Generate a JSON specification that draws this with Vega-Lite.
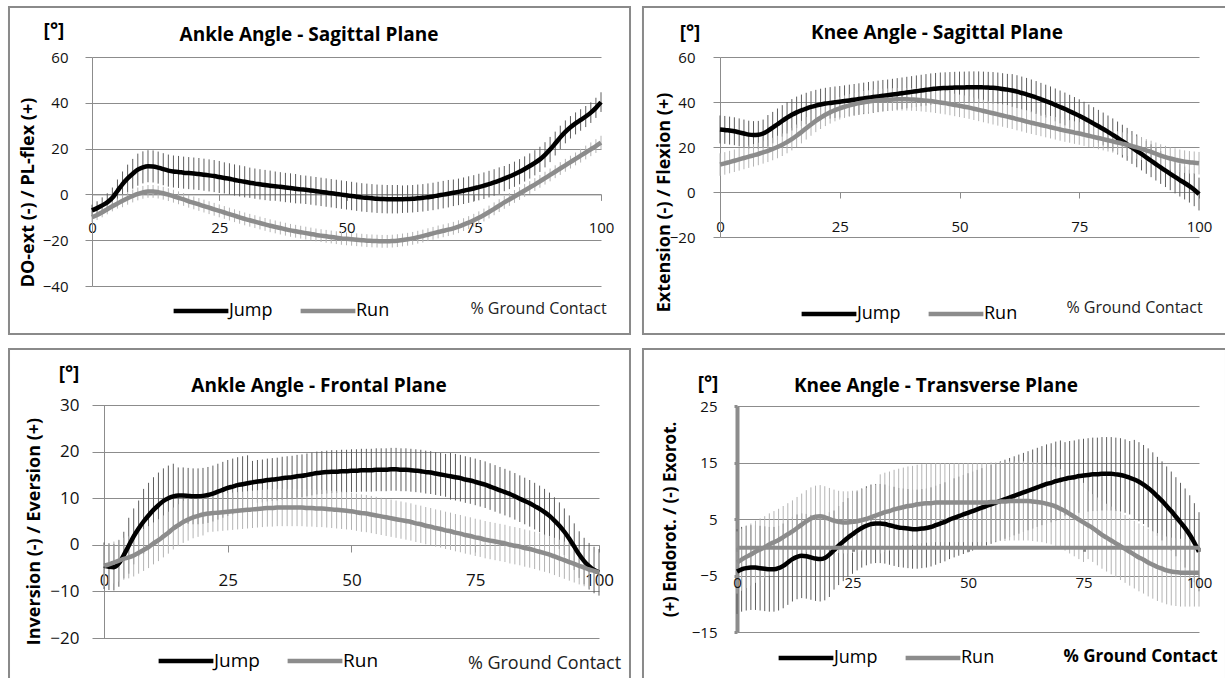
{
"$schema": "https://vega.github.io/schema/vega-lite/v6.json",
"padding": {"left": 7, "top": 6, "right": 0, "bottom": 0},
"autosize": {"type": "pad"},
"background": "white",
"config": {
 "view": {"stroke": null},
 "font": "Open Sans",
 "axis": {"domainColor": "#8c8c8c", "tickColor": "#8c8c8c", "gridColor": "#8c8c8c", "gridOpacity": 1, "labelColor": "#111111", "titleColor": "#000000", "labelFlush": false, "labelOverlap": false, "labelFont": "Open Sans", "titleFont": "Open Sans"},
 "axisX": {"grid": false},
 "axisY": {"grid": true},
 "legend": {"labelFont": "Open Sans", "padding": 0}
},
"resolve": {"scale": {"color": "independent"}, "legend": {"color": "independent"}},
"datasets": {
"p1": [
{"x":0,"j":-7,"je":2.5,"r":-10,"re":2.2},{"x":1,"j":-6,"je":3,"r":-9,"re":2.2},{"x":2,"j":-4.8,"je":3.5,"r":-7.8,"re":2.2},{"x":3,"j":-3.5,"je":4,"r":-6.5,"re":2.2},{"x":4,"j":-1.5,"je":4.5,"r":-5.2,"re":2.2},{"x":5,"j":1.5,"je":5,"r":-4,"re":2.2},{"x":6,"j":4.5,"je":5.5,"r":-2.8,"re":2.8},{"x":7,"j":7,"je":6,"r":-1.7,"re":2.8},{"x":8,"j":9,"je":6.5,"r":-0.7,"re":2.8},{"x":9,"j":10.8,"je":7,"r":0.2,"re":2.8},
{"x":10,"j":11.8,"je":7,"r":0.9,"re":2.8},{"x":11,"j":12.3,"je":7,"r":1.3,"re":2.8},{"x":12,"j":12.2,"je":7,"r":1.3,"re":2.8},{"x":13,"j":11.7,"je":7,"r":1,"re":2.8},{"x":14,"j":11,"je":7,"r":0.5,"re":2.8},{"x":15,"j":10.4,"je":7,"r":-0.1,"re":2.8},{"x":16,"j":10,"je":7,"r":-0.8,"re":2.8},{"x":17,"j":9.8,"je":7,"r":-1.5,"re":2.8},{"x":18,"j":9.5,"je":7,"r":-2.2,"re":2.8},{"x":19,"j":9.3,"je":7,"r":-3,"re":2.8},
{"x":20,"j":9.1,"je":7,"r":-3.7,"re":2.8},{"x":21,"j":8.9,"je":7,"r":-4.4,"re":2.8},{"x":22,"j":8.6,"je":7,"r":-5.1,"re":2.8},{"x":23,"j":8.3,"je":7,"r":-5.8,"re":2.8},{"x":24,"j":8,"je":7,"r":-6.5,"re":2.8},{"x":25,"j":7.6,"je":7,"r":-7.2,"re":2.8},{"x":26,"j":7.2,"je":6.8,"r":-7.9,"re":2.8},{"x":27,"j":6.8,"je":6.8,"r":-8.6,"re":2.8},{"x":28,"j":6.3,"je":6.8,"r":-9.3,"re":2.8},{"x":29,"j":5.9,"je":6.8,"r":-10,"re":2.8},
{"x":30,"j":5.5,"je":6.8,"r":-10.7,"re":2.8},{"x":31,"j":5.1,"je":6.6,"r":-11.3,"re":2.8},{"x":32,"j":4.7,"je":6.6,"r":-11.9,"re":2.8},{"x":33,"j":4.4,"je":6.6,"r":-12.5,"re":2.8},{"x":34,"j":4.1,"je":6.6,"r":-13.1,"re":2.8},{"x":35,"j":3.8,"je":6.6,"r":-13.7,"re":2.8},{"x":36,"j":3.6,"je":6.4,"r":-14.2,"re":2.8},{"x":37,"j":3.3,"je":6.4,"r":-14.7,"re":2.8},{"x":38,"j":3,"je":6.4,"r":-15.2,"re":2.8},{"x":39,"j":2.8,"je":6.4,"r":-15.7,"re":2.8},
{"x":40,"j":2.5,"je":6.4,"r":-16.1,"re":2.8},{"x":41,"j":2.2,"je":6.2,"r":-16.5,"re":2.8},{"x":42,"j":2,"je":6.2,"r":-16.9,"re":2.8},{"x":43,"j":1.7,"je":6.2,"r":-17.3,"re":2.8},{"x":44,"j":1.4,"je":6.2,"r":-17.7,"re":2.8},{"x":45,"j":1.1,"je":6.2,"r":-18,"re":2.8},{"x":46,"j":0.8,"je":6.2,"r":-18.3,"re":2.8},{"x":47,"j":0.5,"je":6.2,"r":-18.6,"re":2.8},{"x":48,"j":0.2,"je":6.2,"r":-18.9,"re":2.8},{"x":49,"j":-0.1,"je":6.2,"r":-19.2,"re":2.8},
{"x":50,"j":-0.4,"je":6.2,"r":-19.4,"re":2.8},{"x":51,"j":-0.7,"je":6.2,"r":-19.6,"re":2.8},{"x":52,"j":-1,"je":6.2,"r":-19.8,"re":2.8},{"x":53,"j":-1.3,"je":6.2,"r":-20,"re":2.8},{"x":54,"j":-1.5,"je":6.2,"r":-20.2,"re":2.8},{"x":55,"j":-1.7,"je":6.2,"r":-20.3,"re":2.8},{"x":56,"j":-1.9,"je":6.2,"r":-20.4,"re":2.8},{"x":57,"j":-2,"je":6.2,"r":-20.5,"re":2.8},{"x":58,"j":-2.1,"je":6.2,"r":-20.5,"re":2.8},{"x":59,"j":-2.1,"je":6.2,"r":-20.4,"re":2.8},
{"x":60,"j":-2.1,"je":6.2,"r":-20.2,"re":2.8},{"x":61,"j":-2.1,"je":6,"r":-19.9,"re":2.8},{"x":62,"j":-2,"je":6,"r":-19.6,"re":2.8},{"x":63,"j":-1.9,"je":6,"r":-19.2,"re":2.8},{"x":64,"j":-1.7,"je":6,"r":-18.7,"re":2.8},{"x":65,"j":-1.5,"je":6,"r":-18.2,"re":2.8},{"x":66,"j":-1.2,"je":6,"r":-17.6,"re":2.8},{"x":67,"j":-0.9,"je":6,"r":-17,"re":2.8},{"x":68,"j":-0.5,"je":6,"r":-16.4,"re":2.8},{"x":69,"j":-0.1,"je":6,"r":-15.9,"re":2.8},
{"x":70,"j":0.3,"je":6,"r":-15.4,"re":2.8},{"x":71,"j":0.7,"je":5.8,"r":-14.8,"re":2.8},{"x":72,"j":1.1,"je":5.8,"r":-14.1,"re":2.8},{"x":73,"j":1.6,"je":5.8,"r":-13.2,"re":2.8},{"x":74,"j":2.1,"je":5.8,"r":-12.3,"re":2.8},{"x":75,"j":2.6,"je":5.8,"r":-11.3,"re":2.8},{"x":76,"j":3.2,"je":5.8,"r":-10.2,"re":2.8},{"x":77,"j":3.8,"je":5.8,"r":-9,"re":2.8},{"x":78,"j":4.5,"je":5.8,"r":-7.7,"re":2.8},{"x":79,"j":5.2,"je":5.8,"r":-6.3,"re":2.8},
{"x":80,"j":6,"je":5.8,"r":-4.9,"re":2.8},{"x":81,"j":6.9,"je":5.5,"r":-3.5,"re":2.8},{"x":82,"j":7.8,"je":5.5,"r":-2.2,"re":2.8},{"x":83,"j":8.8,"je":5.5,"r":-0.9,"re":2.8},{"x":84,"j":9.9,"je":5.5,"r":0.4,"re":2.8},{"x":85,"j":11.1,"je":5.5,"r":1.7,"re":2.8},{"x":86,"j":12.4,"je":5.5,"r":3,"re":2.8},{"x":87,"j":13.8,"je":5.5,"r":4.3,"re":2.8},{"x":88,"j":15.3,"je":5.5,"r":5.7,"re":2.8},{"x":89,"j":17.3,"je":5.5,"r":7.1,"re":2.8},
{"x":90,"j":19.6,"je":5.5,"r":8.5,"re":2.8},{"x":91,"j":22.2,"je":5.2,"r":9.9,"re":2.8},{"x":92,"j":24.9,"je":5.1,"r":11.3,"re":2.8},{"x":93,"j":27.3,"je":5,"r":12.7,"re":2.8},{"x":94,"j":29.3,"je":4.9,"r":14.1,"re":2.8},{"x":95,"j":31,"je":4.8,"r":15.5,"re":2.8},{"x":96,"j":32.5,"je":4.7,"r":16.9,"re":3},{"x":97,"j":34,"je":4.6,"r":18.3,"re":3},{"x":98,"j":35.7,"je":4.5,"r":19.7,"re":3},{"x":99,"j":37.8,"je":4.4,"r":21.1,"re":3},
{"x":100,"j":40.3,"je":4.3,"r":22.6,"re":3}
],
"p2": [
{"x":0,"j":27.8,"je":6.2,"r":12.2,"re":5},{"x":1,"j":27.6,"je":6.2,"r":12.7,"re":5},{"x":2,"j":27.3,"je":6.2,"r":13.3,"re":5},{"x":3,"j":27,"je":6.2,"r":13.9,"re":5},{"x":4,"j":26.5,"je":6.2,"r":14.5,"re":5},{"x":5,"j":26,"je":6.2,"r":15.1,"re":5},{"x":6,"j":25.5,"je":6.2,"r":15.7,"re":5},{"x":7,"j":25.3,"je":6.2,"r":16.3,"re":5},{"x":8,"j":25.4,"je":6.2,"r":16.9,"re":5},{"x":9,"j":26,"je":6.2,"r":17.6,"re":5},
{"x":10,"j":27.2,"je":7,"r":18.3,"re":5},{"x":11,"j":28.6,"je":7,"r":19.1,"re":5},{"x":12,"j":30.1,"je":7,"r":20,"re":5},{"x":13,"j":31.6,"je":7,"r":21,"re":5},{"x":14,"j":33,"je":7,"r":22.2,"re":5},{"x":15,"j":34.3,"je":7,"r":23.5,"re":5},{"x":16,"j":35.4,"je":7,"r":25,"re":5},{"x":17,"j":36.3,"je":7,"r":26.6,"re":5},{"x":18,"j":37.1,"je":7,"r":28.3,"re":5},{"x":19,"j":37.8,"je":7,"r":30,"re":5},
{"x":20,"j":38.4,"je":7,"r":31.6,"re":5},{"x":21,"j":38.9,"je":7,"r":33,"re":5},{"x":22,"j":39.3,"je":7,"r":34.3,"re":5},{"x":23,"j":39.6,"je":7,"r":35.4,"re":5},{"x":24,"j":39.9,"je":7,"r":36.4,"re":5},{"x":25,"j":40.1,"je":7,"r":37.2,"re":5},{"x":26,"j":40.4,"je":7,"r":37.9,"re":5},{"x":27,"j":40.7,"je":7,"r":38.5,"re":5},{"x":28,"j":41,"je":7,"r":39,"re":5},{"x":29,"j":41.3,"je":7,"r":39.5,"re":5},
{"x":30,"j":41.6,"je":7,"r":39.9,"re":5},{"x":31,"j":41.9,"je":7,"r":40.2,"re":5},{"x":32,"j":42.2,"je":7,"r":40.5,"re":5},{"x":33,"j":42.5,"je":7,"r":40.7,"re":5},{"x":34,"j":42.8,"je":7,"r":40.9,"re":5},{"x":35,"j":43,"je":7,"r":41,"re":5},{"x":36,"j":43.3,"je":7,"r":41.1,"re":5},{"x":37,"j":43.6,"je":7,"r":41.2,"re":5},{"x":38,"j":43.9,"je":7,"r":41.2,"re":5},{"x":39,"j":44.2,"je":7,"r":41.2,"re":5},
{"x":40,"j":44.5,"je":7,"r":41.1,"re":5},{"x":41,"j":44.8,"je":7,"r":41,"re":5},{"x":42,"j":45.1,"je":7,"r":40.8,"re":5},{"x":43,"j":45.4,"je":7,"r":40.6,"re":5},{"x":44,"j":45.7,"je":7,"r":40.4,"re":5},{"x":45,"j":45.9,"je":7,"r":40.1,"re":5},{"x":46,"j":46.1,"je":7,"r":39.8,"re":5},{"x":47,"j":46.2,"je":7,"r":39.5,"re":5},{"x":48,"j":46.3,"je":7,"r":39.1,"re":5},{"x":49,"j":46.4,"je":7,"r":38.7,"re":5},
{"x":50,"j":46.5,"je":7,"r":38.3,"re":5},{"x":51,"j":46.5,"je":7,"r":37.9,"re":5},{"x":52,"j":46.6,"je":7,"r":37.5,"re":5},{"x":53,"j":46.6,"je":7,"r":37,"re":5},{"x":54,"j":46.6,"je":7,"r":36.5,"re":5},{"x":55,"j":46.5,"je":7,"r":36,"re":5},{"x":56,"j":46.4,"je":7,"r":35.5,"re":5},{"x":57,"j":46.3,"je":7,"r":35,"re":5},{"x":58,"j":46.1,"je":7,"r":34.5,"re":5},{"x":59,"j":45.8,"je":7,"r":34,"re":5},
{"x":60,"j":45.5,"je":7,"r":33.5,"re":5},{"x":61,"j":45.1,"je":7.3,"r":33,"re":5},{"x":62,"j":44.6,"je":7.3,"r":32.4,"re":5},{"x":63,"j":44,"je":7.3,"r":31.9,"re":5},{"x":64,"j":43.4,"je":7.3,"r":31.3,"re":5},{"x":65,"j":42.7,"je":7.3,"r":30.8,"re":5},{"x":66,"j":42,"je":7.3,"r":30.3,"re":5},{"x":67,"j":41.2,"je":7.3,"r":29.8,"re":5},{"x":68,"j":40.4,"je":7.3,"r":29.3,"re":5},{"x":69,"j":39.6,"je":7.3,"r":28.8,"re":5},
{"x":70,"j":38.7,"je":7.3,"r":28.3,"re":5},{"x":71,"j":37.8,"je":7.3,"r":27.8,"re":5},{"x":72,"j":36.9,"je":7.3,"r":27.3,"re":5},{"x":73,"j":35.9,"je":7.3,"r":26.9,"re":5},{"x":74,"j":34.9,"je":7.3,"r":26.4,"re":5},{"x":75,"j":33.9,"je":7.3,"r":26,"re":5},{"x":76,"j":32.8,"je":7.3,"r":25.5,"re":5},{"x":77,"j":31.6,"je":7.3,"r":25,"re":5},{"x":78,"j":30.4,"je":7.3,"r":24.5,"re":5},{"x":79,"j":29.2,"je":7.3,"r":24,"re":5},
{"x":80,"j":28,"je":7.3,"r":23.5,"re":5},{"x":81,"j":26.7,"je":7.3,"r":23,"re":5},{"x":82,"j":25.4,"je":7.3,"r":22.5,"re":5},{"x":83,"j":24,"je":7.3,"r":22,"re":5},{"x":84,"j":22.6,"je":7.3,"r":21.5,"re":5},{"x":85,"j":21.2,"je":7.3,"r":21,"re":5},{"x":86,"j":19.8,"je":7.3,"r":20.4,"re":5},{"x":87,"j":18.3,"je":7.3,"r":19.8,"re":5},{"x":88,"j":16.9,"je":7.3,"r":19.2,"re":5},{"x":89,"j":15.4,"je":7.3,"r":18.5,"re":5},
{"x":90,"j":13.9,"je":7.3,"r":17.8,"re":5},{"x":91,"j":12.4,"je":7.3,"r":17,"re":5},{"x":92,"j":10.9,"je":7.3,"r":16.2,"re":5},{"x":93,"j":9.5,"je":7.3,"r":15.5,"re":5},{"x":94,"j":8.1,"je":7.3,"r":14.9,"re":5},{"x":95,"j":6.7,"je":7.3,"r":14.4,"re":5},{"x":96,"j":5.3,"je":7.3,"r":13.9,"re":5},{"x":97,"j":4,"je":7.3,"r":13.5,"re":5},{"x":98,"j":2.6,"je":7.3,"r":13.2,"re":5},{"x":99,"j":1,"je":7.3,"r":13,"re":5},
{"x":100,"j":-0.9,"je":7.3,"r":12.8,"re":5}
],
"p3": [
{"x":0,"j":-4.5,"je":5,"r":-4.5,"re":4.5},{"x":1,"j":-4.7,"je":5,"r":-4.2,"re":4.5},{"x":2,"j":-4.8,"je":5,"r":-3.8,"re":4.5},{"x":3,"j":-4,"je":5,"r":-3.4,"re":4.5},{"x":4,"j":-2.2,"je":5,"r":-3,"re":4.5},{"x":5,"j":-0.2,"je":6,"r":-2.7,"re":4.5},{"x":6,"j":1.8,"je":6,"r":-2.3,"re":4.5},{"x":7,"j":3.5,"je":6,"r":-1.7,"re":4.5},{"x":8,"j":5,"je":7,"r":-1.1,"re":4.5},{"x":9,"j":6.3,"je":7,"r":-0.5,"re":4.5},
{"x":10,"j":7.5,"je":7,"r":0.3,"re":4.5},{"x":11,"j":8.5,"je":7,"r":1,"re":4.5},{"x":12,"j":9.4,"je":7,"r":1.8,"re":4.5},{"x":13,"j":10,"je":7,"r":2.6,"re":4.5},{"x":14,"j":10.4,"je":7,"r":3.5,"re":4.5},{"x":15,"j":10.6,"je":6,"r":4.2,"re":4.5},{"x":16,"j":10.6,"je":6,"r":4.9,"re":4.5},{"x":17,"j":10.5,"je":6,"r":5.4,"re":4.5},{"x":18,"j":10.4,"je":6,"r":5.9,"re":4.5},{"x":19,"j":10.4,"je":6,"r":6.2,"re":4.5},
{"x":20,"j":10.5,"je":6,"r":6.5,"re":4.5},{"x":21,"j":10.7,"je":6,"r":6.7,"re":4},{"x":22,"j":11,"je":6,"r":6.8,"re":4},{"x":23,"j":11.4,"je":6,"r":6.9,"re":4},{"x":24,"j":11.8,"je":6,"r":7,"re":4},{"x":25,"j":12.2,"je":6,"r":7.1,"re":4},{"x":26,"j":12.5,"je":6,"r":7.2,"re":4},{"x":27,"j":12.8,"je":6,"r":7.3,"re":4},{"x":28,"j":13,"je":6,"r":7.4,"re":4},{"x":29,"j":13.2,"je":6,"r":7.5,"re":4},
{"x":30,"j":13.4,"je":4.6,"r":7.6,"re":4},{"x":31,"j":13.6,"je":4.6,"r":7.7,"re":4},{"x":32,"j":13.7,"je":4.6,"r":7.8,"re":4},{"x":33,"j":13.9,"je":4.6,"r":7.9,"re":4},{"x":34,"j":14,"je":4.6,"r":7.9,"re":4},{"x":35,"j":14.1,"je":4.6,"r":8,"re":4},{"x":36,"j":14.3,"je":4.6,"r":8,"re":4},{"x":37,"j":14.4,"je":4.6,"r":8,"re":4},{"x":38,"j":14.5,"je":4.6,"r":8,"re":4},{"x":39,"j":14.7,"je":4.6,"r":8,"re":4},
{"x":40,"j":14.8,"je":4.6,"r":8,"re":4},{"x":41,"j":15,"je":4.6,"r":7.9,"re":4},{"x":42,"j":15.2,"je":4.6,"r":7.9,"re":4},{"x":43,"j":15.4,"je":4.6,"r":7.8,"re":4},{"x":44,"j":15.5,"je":4.6,"r":7.8,"re":4},{"x":45,"j":15.6,"je":4.6,"r":7.7,"re":4},{"x":46,"j":15.7,"je":4.6,"r":7.6,"re":4},{"x":47,"j":15.7,"je":4.6,"r":7.5,"re":4},{"x":48,"j":15.8,"je":4.6,"r":7.4,"re":4},{"x":49,"j":15.8,"je":4.6,"r":7.3,"re":4},
{"x":50,"j":15.9,"je":4.6,"r":7.2,"re":4},{"x":51,"j":15.9,"je":4.6,"r":7,"re":4},{"x":52,"j":16,"je":4.6,"r":6.8,"re":4},{"x":53,"j":16,"je":4.6,"r":6.7,"re":4},{"x":54,"j":16,"je":4.6,"r":6.5,"re":4},{"x":55,"j":16.1,"je":4.6,"r":6.3,"re":4},{"x":56,"j":16.1,"je":4.6,"r":6.1,"re":4},{"x":57,"j":16.1,"je":4.6,"r":5.9,"re":4},{"x":58,"j":16.2,"je":4.6,"r":5.7,"re":4},{"x":59,"j":16.2,"je":4.6,"r":5.5,"re":4},
{"x":60,"j":16.1,"je":4.6,"r":5.3,"re":4},{"x":61,"j":16.1,"je":4.6,"r":5.1,"re":4},{"x":62,"j":16,"je":4.6,"r":4.9,"re":4},{"x":63,"j":15.9,"je":4.6,"r":4.6,"re":4},{"x":64,"j":15.8,"je":4.6,"r":4.4,"re":4},{"x":65,"j":15.6,"je":4.6,"r":4.1,"re":4},{"x":66,"j":15.5,"je":4.6,"r":3.9,"re":4},{"x":67,"j":15.3,"je":4.6,"r":3.6,"re":4},{"x":68,"j":15.1,"je":4.6,"r":3.4,"re":4},{"x":69,"j":14.9,"je":4.6,"r":3.1,"re":4},
{"x":70,"j":14.7,"je":5,"r":2.9,"re":4},{"x":71,"j":14.5,"je":5,"r":2.6,"re":4},{"x":72,"j":14.3,"je":5,"r":2.4,"re":4},{"x":73,"j":14,"je":5,"r":2.1,"re":4},{"x":74,"j":13.8,"je":5,"r":1.9,"re":4},{"x":75,"j":13.5,"je":5,"r":1.6,"re":4},{"x":76,"j":13.2,"je":5,"r":1.4,"re":4},{"x":77,"j":12.9,"je":5,"r":1.1,"re":4},{"x":78,"j":12.5,"je":5,"r":0.9,"re":4},{"x":79,"j":12.1,"je":5,"r":0.7,"re":4},
{"x":80,"j":11.7,"je":5,"r":0.5,"re":4},{"x":81,"j":11.3,"je":5,"r":0.3,"re":4},{"x":82,"j":10.9,"je":5,"r":0,"re":4},{"x":83,"j":10.4,"je":5,"r":-0.2,"re":4},{"x":84,"j":9.9,"je":5,"r":-0.4,"re":4},{"x":85,"j":9.4,"je":5,"r":-0.7,"re":4},{"x":86,"j":8.9,"je":5,"r":-0.9,"re":4},{"x":87,"j":8.3,"je":5,"r":-1.2,"re":4},{"x":88,"j":7.7,"je":5,"r":-1.5,"re":4},{"x":89,"j":7,"je":5,"r":-1.8,"re":4},
{"x":90,"j":6.2,"je":5,"r":-2.1,"re":4},{"x":91,"j":5.2,"je":5,"r":-2.5,"re":4},{"x":92,"j":4.1,"je":5,"r":-2.9,"re":4},{"x":93,"j":2.8,"je":5,"r":-3.3,"re":4},{"x":94,"j":1.3,"je":5,"r":-3.7,"re":4},{"x":95,"j":-0.4,"je":5,"r":-4.1,"re":4},{"x":96,"j":-2.1,"je":5,"r":-4.5,"re":4},{"x":97,"j":-3.5,"je":5,"r":-4.9,"re":4},{"x":98,"j":-4.6,"je":5,"r":-5.3,"re":4},{"x":99,"j":-5.4,"je":5,"r":-5.6,"re":4},
{"x":100,"j":-5.9,"je":5,"r":-5.9,"re":4}
],
"p4": [
{"x":0,"j":-4.3,"je":7.5,"r":-2.7,"re":5.5},{"x":1,"j":-3.9,"je":7.5,"r":-2.2,"re":5.5},{"x":2,"j":-3.7,"je":7.5,"r":-1.7,"re":5.5},{"x":3,"j":-3.6,"je":7.5,"r":-1.3,"re":5.5},{"x":4,"j":-3.6,"je":7.5,"r":-0.8,"re":5.5},{"x":5,"j":-3.7,"je":7.5,"r":-0.4,"re":5.5},{"x":6,"j":-3.8,"je":7.5,"r":0,"re":5.5},{"x":7,"j":-3.9,"je":7.5,"r":0.5,"re":5.5},{"x":8,"j":-3.9,"je":7.5,"r":0.9,"re":5.5},{"x":9,"j":-3.7,"je":7.5,"r":1.3,"re":5.5},
{"x":10,"j":-3.3,"je":7.5,"r":1.8,"re":5.5},{"x":11,"j":-2.7,"je":7.5,"r":2.3,"re":5.5},{"x":12,"j":-2.1,"je":7.5,"r":2.8,"re":5.5},{"x":13,"j":-1.7,"je":7.5,"r":3.4,"re":5.5},{"x":14,"j":-1.5,"je":7.5,"r":4,"re":5.5},{"x":15,"j":-1.6,"je":7.5,"r":4.6,"re":5.5},{"x":16,"j":-1.8,"je":7.5,"r":5.1,"re":5.5},{"x":17,"j":-2,"je":7.5,"r":5.4,"re":5.5},{"x":18,"j":-2.1,"je":7.5,"r":5.5,"re":5.5},{"x":19,"j":-1.9,"je":7.5,"r":5.3,"re":5.5},
{"x":20,"j":-1.3,"je":7.5,"r":5,"re":5.5},{"x":21,"j":-0.5,"je":7,"r":4.7,"re":5.5},{"x":22,"j":0.3,"je":7,"r":4.5,"re":5.5},{"x":23,"j":1,"je":7,"r":4.4,"re":5.5},{"x":24,"j":1.7,"je":7,"r":4.4,"re":5.5},{"x":25,"j":2.3,"je":7,"r":4.5,"re":5.5},{"x":26,"j":2.9,"je":7,"r":4.6,"re":5.5},{"x":27,"j":3.4,"je":7,"r":4.8,"re":5.5},{"x":28,"j":3.8,"je":7,"r":5,"re":5.5},{"x":29,"j":4.1,"je":7,"r":5.3,"re":5.5},
{"x":30,"j":4.2,"je":7,"r":5.6,"re":5.5},{"x":31,"j":4.2,"je":7,"r":5.9,"re":7},{"x":32,"j":4.1,"je":7,"r":6.2,"re":7},{"x":33,"j":3.9,"je":7,"r":6.4,"re":7},{"x":34,"j":3.7,"je":7,"r":6.7,"re":7},{"x":35,"j":3.5,"je":7,"r":6.9,"re":7},{"x":36,"j":3.4,"je":7,"r":7.1,"re":7},{"x":37,"j":3.3,"je":7,"r":7.3,"re":7},{"x":38,"j":3.2,"je":7,"r":7.4,"re":7},{"x":39,"j":3.2,"je":7,"r":7.6,"re":7},
{"x":40,"j":3.3,"je":7,"r":7.7,"re":7},{"x":41,"j":3.4,"je":7,"r":7.8,"re":7},{"x":42,"j":3.6,"je":7,"r":7.8,"re":7},{"x":43,"j":3.9,"je":7,"r":7.9,"re":7},{"x":44,"j":4.2,"je":7,"r":7.9,"re":7},{"x":45,"j":4.5,"je":7,"r":7.9,"re":7},{"x":46,"j":4.9,"je":7,"r":7.9,"re":7},{"x":47,"j":5.2,"je":7,"r":7.9,"re":7},{"x":48,"j":5.5,"je":7,"r":7.9,"re":7},{"x":49,"j":5.8,"je":7,"r":7.9,"re":7},
{"x":50,"j":6.1,"je":7,"r":7.9,"re":7},{"x":51,"j":6.4,"je":7,"r":7.9,"re":7},{"x":52,"j":6.7,"je":7,"r":7.9,"re":7},{"x":53,"j":7,"je":7,"r":7.9,"re":7},{"x":54,"j":7.3,"je":7,"r":7.9,"re":7},{"x":55,"j":7.6,"je":7,"r":8,"re":7},{"x":56,"j":7.9,"je":7,"r":8,"re":7},{"x":57,"j":8.2,"je":7,"r":8.1,"re":7},{"x":58,"j":8.5,"je":7,"r":8.1,"re":7},{"x":59,"j":8.8,"je":7,"r":8.2,"re":7},
{"x":60,"j":9.1,"je":7,"r":8.2,"re":7},{"x":61,"j":9.4,"je":7,"r":8.2,"re":7},{"x":62,"j":9.7,"je":7,"r":8.2,"re":7},{"x":63,"j":10,"je":7,"r":8.2,"re":7},{"x":64,"j":10.3,"je":7,"r":8.1,"re":7},{"x":65,"j":10.6,"je":7,"r":8,"re":7},{"x":66,"j":10.9,"je":7,"r":7.9,"re":7},{"x":67,"j":11.2,"je":7,"r":7.7,"re":7},{"x":68,"j":11.4,"je":7,"r":7.5,"re":7},{"x":69,"j":11.7,"je":7,"r":7.2,"re":7},
{"x":70,"j":11.9,"je":7,"r":6.8,"re":7},{"x":71,"j":12.1,"je":6.5,"r":6.4,"re":7},{"x":72,"j":12.3,"je":6.5,"r":5.9,"re":7},{"x":73,"j":12.4,"je":6.5,"r":5.4,"re":7},{"x":74,"j":12.6,"je":6.5,"r":4.9,"re":7},{"x":75,"j":12.7,"je":6.5,"r":4.4,"re":7},{"x":76,"j":12.8,"je":6.5,"r":3.9,"re":6},{"x":77,"j":12.9,"je":6.5,"r":3.4,"re":6},{"x":78,"j":12.9,"je":6.5,"r":2.8,"re":6},{"x":79,"j":13,"je":6.5,"r":2.2,"re":6},
{"x":80,"j":13,"je":6.5,"r":1.7,"re":6},{"x":81,"j":13,"je":6.5,"r":1.2,"re":6},{"x":82,"j":12.9,"je":6.5,"r":0.7,"re":6},{"x":83,"j":12.8,"je":6.5,"r":0.2,"re":6},{"x":84,"j":12.6,"je":6.5,"r":-0.3,"re":6},{"x":85,"j":12.3,"je":6.5,"r":-0.8,"re":6},{"x":86,"j":12,"je":7,"r":-1.3,"re":6},{"x":87,"j":11.6,"je":7,"r":-1.8,"re":6},{"x":88,"j":11.1,"je":7,"r":-2.2,"re":6},{"x":89,"j":10.5,"je":7,"r":-2.7,"re":6},
{"x":90,"j":9.8,"je":7,"r":-3.1,"re":6},{"x":91,"j":9,"je":7,"r":-3.5,"re":6},{"x":92,"j":8.2,"je":7,"r":-3.8,"re":6},{"x":93,"j":7.3,"je":7,"r":-4.1,"re":6},{"x":94,"j":6.4,"je":7,"r":-4.3,"re":6},{"x":95,"j":5.4,"je":7,"r":-4.4,"re":6},{"x":96,"j":4.4,"je":7,"r":-4.5,"re":6},{"x":97,"j":3.4,"je":7,"r":-4.5,"re":6},{"x":98,"j":2.2,"je":7,"r":-4.5,"re":6},{"x":99,"j":0.8,"je":7,"r":-4.5,"re":6},
{"x":100,"j":-0.8,"je":7,"r":-4.5,"re":6}
]
},
"columns": 2,
"align": "none",
"spacing": {"row": 12, "column": 9},
"concat": [
 {"width": 509, "height": 229,
  "layer": [
   {"data": {"values": [{}]}, "mark": {"type": "rect", "filled": false, "color": "#8a8a8a", "strokeWidth": 2, "clip": false},
    "encoding": {"x": {"datum": -16.31, "type": "quantitative", "scale": {"domain": [0, 100], "nice": false, "zero": false}}, "x2": {"datum": 105.7},
                 "y": {"datum": 81.83, "type": "quantitative", "scale": {"domain": [-40, 60], "nice": false, "zero": false}}, "y2": {"datum": -60.96}}},
   {"data": {"values": [{}]}, "mark": {"type": "text", "text": "Ankle Angle - Sagittal Plane", "font": "Open Sans", "fontSize": 19, "fontWeight": "bold", "color": "#000000", "align": "center", "baseline": "middle", "clip": false},
    "encoding": {"x": {"datum": 42.63, "type": "quantitative"}, "y": {"datum": 69.6, "type": "quantitative"}}},
   {"data": {"values": [{}]}, "mark": {"type": "text", "text": "[°]", "font": "Open Sans", "fontSize": 19, "fontWeight": "bold", "color": "#000000", "align": "center", "baseline": "middle", "clip": false},
    "encoding": {"x": {"datum": -7.47, "type": "quantitative"}, "y": {"datum": 71.35, "type": "quantitative"}}},
   {"data": {"name": "p1"}, "mark": {"type": "errorbar", "color": "#5e5e5e", "thickness": 1},
    "encoding": {"x": {"field": "x", "type": "quantitative", "title": "% Ground Contact"}, "y": {"field": "j", "type": "quantitative", "title": "DO-ext (-) / PL-flex (+)"}, "yError": {"field": "je"}}},
   {"data": {"name": "p1"}, "mark": {"type": "errorbar", "color": "#b4b4b4", "thickness": 1},
    "encoding": {"x": {"field": "x", "type": "quantitative", "title": "% Ground Contact"}, "y": {"field": "r", "type": "quantitative", "title": "DO-ext (-) / PL-flex (+)"}, "yError": {"field": "re"}}},
   {"data": {"name": "p1"}, "mark": {"type": "line", "strokeWidth": 4.5, "interpolate": "monotone"},
    "encoding": {
     "x": {"field": "x", "type": "quantitative", "title": "% Ground Contact", "axis": {"values": [0, 25, 50, 75, 100], "offset": -91.6, "tickSize": 6, "labelPadding": 20, "labelFontSize": 15, "titleFontSize": 16, "titleFontWeight": "normal", "titleColor": "#222222", "titleX": 446, "titleY": 113.6, "titleBaseline": "middle", "titleAlign": "center"}},
     "y": {"field": "j", "type": "quantitative", "title": "DO-ext (-) / PL-flex (+)", "axis": {"values": [-40, -20, 0, 20, 40, 60], "tickSize": 7, "labelPadding": 17, "labelFontSize": 15, "titleFontSize": 18, "titleFontWeight": "bold", "titleX": -64, "titleY": 135, "titleBaseline": "middle", "titleAlign": "center", "titleAngle": -90}},
     "color": {"datum": "Jump", "type": "nominal", "scale": {"domain": ["Jump", "Run"], "range": ["#000000", "#8c8c8c"]},
      "legend": {"orient": "none", "legendX": 79, "legendY": 224, "direction": "horizontal", "title": null, "labelFontSize": 18, "labelColor": "#000000", "symbolType": "stroke", "symbolStrokeWidth": 4.5, "symbolSize": 3000, "columnPadding": 18, "labelOffset": -2}}}},
   {"data": {"name": "p1"}, "mark": {"type": "line", "strokeWidth": 4.5, "interpolate": "monotone"},
    "encoding": {"x": {"field": "x", "type": "quantitative", "title": "% Ground Contact"}, "y": {"field": "r", "type": "quantitative", "title": "DO-ext (-) / PL-flex (+)"}, "color": {"datum": "Run", "type": "nominal"}}}
  ]},
 {"width": 479, "height": 180,
  "layer": [
   {"data": {"values": [{}]}, "mark": {"type": "rect", "filled": false, "color": "#8a8a8a", "strokeWidth": 2, "clip": false},
    "encoding": {"x": {"datum": -16.08, "type": "quantitative", "scale": {"domain": [0, 100], "nice": false, "zero": false}}, "x2": {"datum": 105.64},
                 "y": {"datum": 82.22, "type": "quantitative", "scale": {"domain": [-20, 60], "nice": false, "zero": false}}, "y2": {"datum": -63.11}}},
   {"data": {"values": [{}]}, "mark": {"type": "text", "text": "Knee Angle - Sagittal Plane", "font": "Open Sans", "fontSize": 19, "fontWeight": "bold", "color": "#000000", "align": "center", "baseline": "middle", "clip": false},
    "encoding": {"x": {"datum": 45.3, "type": "quantitative"}, "y": {"datum": 70.67, "type": "quantitative"}}},
   {"data": {"values": [{}]}, "mark": {"type": "text", "text": "[°]", "font": "Open Sans", "fontSize": 19, "fontWeight": "bold", "color": "#000000", "align": "center", "baseline": "middle", "clip": false},
    "encoding": {"x": {"datum": -6.26, "type": "quantitative"}, "y": {"datum": 70.67, "type": "quantitative"}}},
   {"data": {"name": "p2"}, "mark": {"type": "errorbar", "color": "#5e5e5e", "thickness": 1},
    "encoding": {"x": {"field": "x", "type": "quantitative", "title": "% Ground Contact"}, "y": {"field": "j", "type": "quantitative", "title": "Extension (-) / Flexion (+)"}, "yError": {"field": "je"}}},
   {"data": {"name": "p2"}, "mark": {"type": "errorbar", "color": "#b4b4b4", "thickness": 1},
    "encoding": {"x": {"field": "x", "type": "quantitative", "title": "% Ground Contact"}, "y": {"field": "r", "type": "quantitative", "title": "Extension (-) / Flexion (+)"}, "yError": {"field": "re"}}},
   {"data": {"name": "p2"}, "mark": {"type": "line", "strokeWidth": 4.5, "interpolate": "monotone"},
    "encoding": {
     "x": {"field": "x", "type": "quantitative", "title": "% Ground Contact", "axis": {"values": [0, 25, 50, 75, 100], "offset": -45, "tickSize": 6, "labelPadding": 21, "labelFontSize": 15, "titleFontSize": 16, "titleFontWeight": "normal", "titleColor": "#222222", "titleX": 414, "titleY": 115, "titleBaseline": "middle", "titleAlign": "center"}},
     "y": {"field": "j", "type": "quantitative", "title": "Extension (-) / Flexion (+)", "axis": {"values": [-20, 0, 20, 40, 60], "tickSize": 7, "labelPadding": 18, "labelFontSize": 15, "titleFontSize": 18, "titleFontWeight": "bold", "titleX": -56, "titleY": 145, "titleBaseline": "middle", "titleAlign": "center", "titleAngle": -90}},
     "color": {"datum": "Jump", "type": "nominal", "scale": {"domain": ["Jump", "Run"], "range": ["#000000", "#8c8c8c"]},
      "legend": {"orient": "none", "legendX": 79, "legendY": 227, "direction": "horizontal", "title": null, "labelFontSize": 18, "labelColor": "#000000", "symbolType": "stroke", "symbolStrokeWidth": 4.5, "symbolSize": 3000, "columnPadding": 18, "labelOffset": -2}}}},
   {"data": {"name": "p2"}, "mark": {"type": "line", "strokeWidth": 4.5, "interpolate": "monotone"},
    "encoding": {"x": {"field": "x", "type": "quantitative", "title": "% Ground Contact"}, "y": {"field": "r", "type": "quantitative", "title": "Extension (-) / Flexion (+)"}, "color": {"datum": "Run", "type": "nominal"}}}
  ]},
 {"width": 507, "height": 233,
  "layer": [
   {"data": {"values": [{}]}, "mark": {"type": "rect", "filled": false, "color": "#8a8a8a", "strokeWidth": 2, "clip": false},
    "encoding": {"x": {"datum": -19.19, "type": "quantitative", "scale": {"domain": [-2.424, 100], "nice": false, "zero": false}}, "x2": {"datum": 106.26},
                 "y": {"datum": 42.02, "type": "quantitative", "scale": {"domain": [-20, 30], "nice": false, "zero": false}}, "y2": {"datum": -30.3}}},
   {"data": {"values": [{}]}, "mark": {"type": "text", "text": "Ankle Angle - Frontal Plane", "font": "Open Sans", "fontSize": 19, "fontWeight": "bold", "color": "#000000", "align": "center", "baseline": "middle", "clip": false},
    "encoding": {"x": {"datum": 43.43, "type": "quantitative"}, "y": {"datum": 34.08, "type": "quantitative"}}},
   {"data": {"values": [{}]}, "mark": {"type": "text", "text": "[°]", "font": "Open Sans", "fontSize": 19, "fontWeight": "bold", "color": "#000000", "align": "center", "baseline": "middle", "clip": false},
    "encoding": {"x": {"datum": -7.07, "type": "quantitative"}, "y": {"datum": 36.65, "type": "quantitative"}}},
   {"data": {"name": "p3"}, "mark": {"type": "errorbar", "color": "#5e5e5e", "thickness": 1},
    "encoding": {"x": {"field": "x", "type": "quantitative", "title": "% Ground Contact"}, "y": {"field": "j", "type": "quantitative", "title": "Inversion (-) / Eversion (+)"}, "yError": {"field": "je"}}},
   {"data": {"name": "p3"}, "mark": {"type": "errorbar", "color": "#b4b4b4", "thickness": 1},
    "encoding": {"x": {"field": "x", "type": "quantitative", "title": "% Ground Contact"}, "y": {"field": "r", "type": "quantitative", "title": "Inversion (-) / Eversion (+)"}, "yError": {"field": "re"}}},
   {"data": {"name": "p3"}, "mark": {"type": "line", "strokeWidth": 4.5, "interpolate": "monotone"},
    "encoding": {
     "x": {"field": "x", "type": "quantitative", "title": "% Ground Contact", "axis": {"values": [0, 25, 50, 75, 100], "offset": -93, "tickSize": 7, "labelPadding": 20, "labelFontSize": 17, "titleFontSize": 18, "titleFontWeight": "normal", "titleColor": "#222222", "titleX": 452, "titleY": 118, "titleBaseline": "middle", "titleAlign": "center"}},
     "y": {"field": "j", "type": "quantitative", "title": "Inversion (-) / Eversion (+)", "axis": {"values": [-20, -10, 0, 10, 20, 30], "offset": -12, "tickSize": 8, "labelPadding": 17, "labelFontSize": 17, "titleFontSize": 18, "titleFontWeight": "bold", "titleX": -70, "titleY": 126, "titleBaseline": "middle", "titleAlign": "center", "titleAngle": -90}},
     "color": {"datum": "Jump", "type": "nominal", "scale": {"domain": ["Jump", "Run"], "range": ["#000000", "#8c8c8c"]},
      "legend": {"orient": "none", "legendX": 64, "legendY": 226, "direction": "horizontal", "title": null, "labelFontSize": 19, "labelColor": "#000000", "symbolType": "stroke", "symbolStrokeWidth": 4.5, "symbolSize": 3000, "columnPadding": 18, "labelOffset": -2}}}},
   {"data": {"name": "p3"}, "mark": {"type": "line", "strokeWidth": 4.5, "interpolate": "monotone"},
    "encoding": {"x": {"field": "x", "type": "quantitative", "title": "% Ground Contact"}, "y": {"field": "r", "type": "quantitative", "title": "Inversion (-) / Eversion (+)"}, "color": {"datum": "Run", "type": "nominal"}}}
  ]},
 {"width": 462, "height": 226,
  "layer": [
   {"data": {"values": [{}]}, "mark": {"type": "rect", "filled": false, "color": "#8a8a8a", "strokeWidth": 2, "clip": false},
    "encoding": {"x": {"datum": -20.35, "type": "quantitative", "scale": {"domain": [0, 100], "nice": false, "zero": false}}, "x2": {"datum": 105.84},
                 "y": {"datum": 35.09, "type": "quantitative", "scale": {"domain": [-15, 25], "nice": false, "zero": false}}, "y2": {"datum": -24.56}}},
   {"data": {"values": [{}]}, "mark": {"type": "text", "text": "Knee Angle - Transverse Plane", "font": "Open Sans", "fontSize": 19, "fontWeight": "bold", "color": "#000000", "align": "center", "baseline": "middle", "clip": false},
    "encoding": {"x": {"datum": 43.07, "type": "quantitative"}, "y": {"datum": 28.54, "type": "quantitative"}}},
   {"data": {"values": [{}]}, "mark": {"type": "text", "text": "[°]", "font": "Open Sans", "fontSize": 19, "fontWeight": "bold", "color": "#000000", "align": "center", "baseline": "middle", "clip": false},
    "encoding": {"x": {"datum": -6.28, "type": "quantitative"}, "y": {"datum": 28.89, "type": "quantitative"}}},
   {"data": {"name": "p4"}, "mark": {"type": "errorbar", "color": "#5e5e5e", "thickness": 1},
    "encoding": {"x": {"field": "x", "type": "quantitative", "title": "% Ground Contact"}, "y": {"field": "j", "type": "quantitative", "title": "(+) Endorot. / (-) Exorot."}, "yError": {"field": "je"}}},
   {"data": {"name": "p4"}, "mark": {"type": "errorbar", "color": "#b4b4b4", "thickness": 1},
    "encoding": {"x": {"field": "x", "type": "quantitative", "title": "% Ground Contact"}, "y": {"field": "r", "type": "quantitative", "title": "(+) Endorot. / (-) Exorot."}, "yError": {"field": "re"}}},
   {"data": {"name": "p4"}, "mark": {"type": "line", "strokeWidth": 4.5, "interpolate": "monotone"},
    "encoding": {
     "x": {"field": "x", "type": "quantitative", "title": "% Ground Contact", "axis": {"values": [0, 25, 50, 75, 100], "offset": -84.7, "zindex": 1, "domainWidth": 4, "tickWidth": 3, "tickSize": 4, "labelPadding": 24, "labelFontSize": 15, "titleFontSize": 17, "titleFontWeight": "bold", "titleColor": "#000000", "titleX": 403, "titleY": 108.7, "titleBaseline": "middle", "titleAlign": "center"}},
     "y": {"field": "j", "type": "quantitative", "title": "(+) Endorot. / (-) Exorot.", "axis": {"values": [-15, -5, 5, 15, 25], "domainWidth": 4, "tickWidth": 3, "tickSize": 3, "labelPadding": 17, "labelFontSize": 15, "titleFontSize": 17, "titleFontWeight": "bold", "titleX": -67, "titleY": 113, "titleBaseline": "middle", "titleAlign": "center", "titleAngle": -90}},
     "color": {"datum": "Jump", "type": "nominal", "scale": {"domain": ["Jump", "Run"], "range": ["#000000", "#8c8c8c"]},
      "legend": {"orient": "none", "legendX": 39, "legendY": 222, "direction": "horizontal", "title": null, "labelFontSize": 18, "labelColor": "#000000", "symbolType": "stroke", "symbolStrokeWidth": 4.5, "symbolSize": 3000, "columnPadding": 18, "labelOffset": -2}}}},
   {"data": {"name": "p4"}, "mark": {"type": "line", "strokeWidth": 4.5, "interpolate": "monotone"},
    "encoding": {"x": {"field": "x", "type": "quantitative", "title": "% Ground Contact"}, "y": {"field": "r", "type": "quantitative", "title": "(+) Endorot. / (-) Exorot."}, "color": {"datum": "Run", "type": "nominal"}}}
  ]}
]
}
